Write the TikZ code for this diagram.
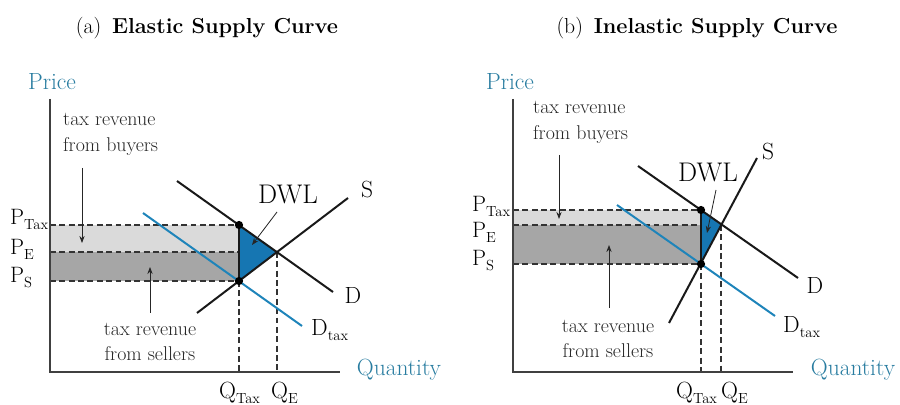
\documentclass[tikz,border=0pt]{standalone}
\usepackage{tikz}
\usetikzlibrary{arrows.meta,positioning,shapes}

\definecolor{axisblue}{RGB}{40,124,160}
\definecolor{dwlblue}{RGB}{22,118,178}
\definecolor{taxblue}{RGB}{30,132,186}
\definecolor{lightband}{RGB}{218,218,218}
\definecolor{darkband}{RGB}{166,166,166}

\newcommand{\lowidx}[1]{\raisebox{-0.5ex}{\fontsize{12.5}{13}\selectfont #1}}

\begin{document}
\begin{tikzpicture}[x=0.03cm,y=-0.03cm,
  axis/.style={line width=1.1pt,black!75},
  curve/.style={line width=1.7pt,black!90},
  taxcurve/.style={line width=1.7pt,taxblue},
  guide/.style={dash pattern=on 5pt off 3pt,line width=0.9pt,black!80},
  pointer/.style={-{Stealth[length=6pt,width=4.5pt]},line width=0.7pt,black!85},
  dot/.style={circle,fill=black,inner sep=0pt,minimum size=7pt},
  title/.style={font=\fontsize{18.5}{22}\selectfont},
  axislbl/.style={font=\fontsize{20}{24}\selectfont,text=axisblue},
  pricelbl/.style={anchor=base west,inner sep=0pt,font=\fontsize{19}{22}\selectfont},
  qlbl/.style={anchor=base west,inner sep=0pt,font=\fontsize{20}{22}\selectfont},
  curvelbl/.style={font=\fontsize{20}{22}\selectfont},
  note/.style={inner sep=0pt,text=black!85,font=\fontsize{17}{22}\selectfont},
]
\useasboundingbox (0,0) rectangle (900,405);

% titles
\node[title] (ta) at (207,28) {(a)\enskip\textbf{Elastic Supply Curve}};
\node[title] (tb) at (697,28) {(b)\enskip\textbf{Inelastic Supply Curve}};

% ---- panel (a): elastic supply
\coordinate (aO) at (50,372);
\coordinate (aTop) at (50,99);
\coordinate (aEnd) at (340,372);
\coordinate (aA) at (239,225);
\coordinate (aB) at (239,281);
\coordinate (aE) at (277,252);
\coordinate (aD1) at (177,181);
\coordinate (aD2) at (333,292);
\coordinate (aS1) at (197,313);
\coordinate (aS2) at (348,198);
\coordinate (aT1) at (143,213);
\coordinate (aT2) at (302,326);

\fill[lightband] (aO |- aA) rectangle (aA |- aE);
\fill[darkband] (aO |- aE) rectangle (aB);
\draw[guide] (aO |- aA) -- (aA);
\draw[guide] (aO |- aE) -- (aE);
\draw[guide] (aO |- aB) -- (aB);
\draw[guide] (aB) -- (aB |- aO);
\draw[guide] (aE) -- (aE |- aO);
\fill[dwlblue] (aA) -- (aE) -- (aB) -- cycle;
\draw[taxcurve] (aT1) -- (aT2);
\draw[curve] (aD1) -- (aD2);
\draw[curve] (aS1) -- (aS2);
\draw[curve] (aA) -- (aB);
\node[dot] (aAdot) at (aA) {};
\node[dot] (aBdot) at (aB) {};
\draw[axis] (aTop) -- (aO) -- (aEnd);

\node[axislbl] (aPrice) at (52,82) {Price};
\node[axislbl] (aQty) at (399,370) {Quantity};
\node[pricelbl] (aPT) at (10,225) {P\lowidx{Tax}};
\node[pricelbl] (aPE) at (10,255) {P\lowidx{E}};
\node[pricelbl] (aPS) at (10,283) {P\lowidx{S}};
\node[qlbl] (aQT) at (219,398) {Q\lowidx{Tax}};
\node[qlbl] (aQE) at (271,398) {Q\lowidx{E}};
\node[curvelbl] (aSlbl) at (367,190) {S};
\node[curvelbl] (aDlbl) at (353,295) {D};
\node[curvelbl,anchor=west,inner sep=0pt] (aTlbl) at (311,330) {D\lowidx{tax}};
\node[curvelbl,font=\fontsize{23}{24}\selectfont] (aDWL) at (288,195) {DWL};
\coordinate (aDWLfoot) at (277,212);
\coordinate (aDWLtip) at (252,245);
\draw[pointer] (aDWLfoot) -- (aDWLtip);

\node[note,align=left,anchor=north west] (aBuy) at (63,113) {tax revenue\\from buyers};
\coordinate (aBuyfoot) at (82,168);
\coordinate (aBuytip) at (82,243);
\draw[pointer] (aBuyfoot) -- (aBuytip);
\node[note,align=center] (aSell) at (150,342) {tax revenue\\from sellers};
\coordinate (aSellfoot) at (150,313);
\coordinate (aSelltip) at (150,267);
\draw[pointer] (aSellfoot) -- (aSelltip);

% ---- panel (b): inelastic supply
\coordinate (bO) at (513,372);
\coordinate (bTop) at (513,99);
\coordinate (bEnd) at (793,372);
\coordinate (bA) at (701,210);
\coordinate (bB) at (701,264);
\coordinate (bE) at (721,225);
\coordinate (bD1) at (638,166);
\coordinate (bD2) at (798,278);
\coordinate (bS1) at (669,323);
\coordinate (bS2) at (757,158);
\coordinate (bT1) at (617,205);
\coordinate (bT2) at (775,316);

\fill[lightband] (bO |- bA) rectangle (bA |- bE);
\fill[darkband] (bO |- bE) rectangle (bB);
\draw[guide] (bO |- bA) -- (bA);
\draw[guide] (bO |- bE) -- (bE);
\draw[guide] (bO |- bB) -- (bB);
\draw[guide] (bB) -- (bB |- bO);
\draw[guide] (bE) -- (bE |- bO);
\fill[dwlblue] (bA) -- (bE) -- (bB) -- cycle;
\draw[taxcurve] (bT1) -- (bT2);
\draw[curve] (bD1) -- (bD2);
\draw[curve] (bS1) -- (bS2);
\draw[curve] (bA) -- (bB);
\node[dot] (bAdot) at (bA) {};
\node[dot] (bBdot) at (bB) {};
\draw[axis] (bTop) -- (bO) -- (bEnd);

\node[axislbl] (bPrice) at (510,82) {Price};
\node[axislbl] (bQty) at (853,370) {Quantity};
\node[pricelbl] (bPT) at (472,212) {P\lowidx{Tax}};
\node[pricelbl] (bPE) at (472,238) {P\lowidx{E}};
\node[pricelbl] (bPS) at (472,266) {P\lowidx{S}};
\node[qlbl] (bQT) at (676,398) {Q\lowidx{Tax}};
\node[qlbl] (bQE) at (721,398) {Q\lowidx{E}};
\node[curvelbl] (bSlbl) at (768,152) {S};
\node[curvelbl] (bDlbl) at (815,285) {D};
\node[curvelbl,anchor=west,inner sep=0pt] (bTlbl) at (783,327) {D\lowidx{tax}};
\node[curvelbl,font=\fontsize{23}{24}\selectfont] (bDWL) at (708,173) {DWL};
\coordinate (bDWLfoot) at (716,190);
\coordinate (bDWLtip) at (707,233);
\draw[pointer] (bDWLfoot) -- (bDWLtip);

\node[note,align=left,anchor=north west] (bBuy) at (533,101) {tax revenue\\from buyers};
\coordinate (bBuyfoot) at (559,155);
\coordinate (bBuytip) at (559,219);
\draw[pointer] (bBuyfoot) -- (bBuytip);
\node[note,align=center] (bSell) at (608,339) {tax revenue\\from sellers};
\coordinate (bSellfoot) at (609,308);
\coordinate (bSelltip) at (609,245);
\draw[pointer] (bSellfoot) -- (bSelltip);
\end{tikzpicture}
\end{document}
